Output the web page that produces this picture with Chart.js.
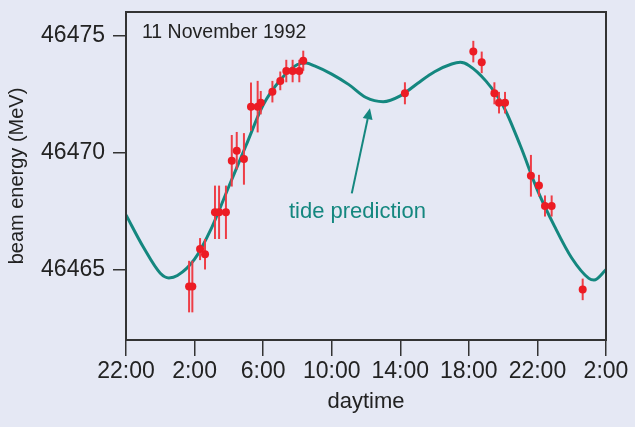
<!DOCTYPE html>
<html>
<head>
<meta charset="utf-8">
<script src="https://cdn.jsdelivr.net/npm/chart.js@4.4.0/dist/chart.umd.min.js"></script>
<style>
    html, body { margin: 0; padding: 0; background: #e5e8f4; }
</style>
</head>
<body>
<canvas id="chart" width="635" height="427"></canvas>
<script>
// hours are counted from midnight of 11 November 1992
const pointHours = [1.68, 1.87, 2.32, 2.61, 3.19, 3.43, 3.83, 4.17, 4.46, 4.88, 5.29, 5.68, 5.86, 6.54, 7.0,
    7.35, 7.72, 8.11, 8.34, 14.27, 18.26, 18.75, 19.49, 19.76, 20.11, 21.62, 22.09, 22.44, 22.83, 24.64];
const pointEnergy = [46464.28, 46464.28, 46465.88, 46465.66, 46467.45, 46467.45, 46467.45, 46469.65, 46470.08,
    46469.73, 46471.96, 46471.96, 46472.13, 46472.6, 46473.06, 46473.48, 46473.48, 46473.48, 46473.92, 46472.53,
    46474.31, 46473.85, 46472.53, 46472.13, 46472.13, 46469.01, 46468.59, 46467.72, 46467.72, 46464.16];
const pointError = [1.1, 1.1, 0.47, 0.65, 1.14, 1.14, 1.14, 1.1, 0.8, 1.1, 1.03, 1.1, 0.5, 0.46, 0.4,
    0.48, 0.48, 0.48, 0.43, 0.47, 0.46, 0.46, 0.47, 0.46, 0.46, 0.89, 0.46, 0.45, 0.45, 0.46];

const tideHours = [-2, -1, 0, 0.5, 1, 2, 3, 4, 5, 6, 7, 8, 8.5, 9, 10, 11, 12, 13, 14, 15, 16, 17, 17.5, 18,
    19, 20, 21, 22, 23, 24, 25, 25.3, 26];
const tideEnergy = [46467.34, 46465.98, 46464.85, 46464.65, 46464.75, 46465.45, 46466.8, 46468.55, 46470.3,
    46472.03, 46473.1, 46473.76, 46473.82, 46473.7, 46473.35, 46472.9, 46472.35, 46472.17, 46472.42, 46472.95,
    46473.45, 46473.78, 46473.85, 46473.72, 46473.05, 46472.0, 46470.3, 46468.4, 46466.85, 46465.5, 46464.63,
    46464.56, 46465.0];

const xTickHours = [-2, 2, 6, 10, 14, 18, 22, 26];
const xTickLabels = ['22:00', '2:00', '6:00', '10:00', '14:00', '18:00', '22:00', '2:00'];
const yTickValues = [46465, 46470, 46475];

const teal = '#14877f';
const red = '#ec1c24';
const ink = '#222';
const family = '"Liberation Sans", Arial, sans-serif';

const backgroundPlugin = {
    id: 'background',
    beforeDraw(chart) {
        const ctx = chart.ctx;
        ctx.save();
        ctx.fillStyle = '#e5e8f4';
        ctx.fillRect(0, 0, chart.width, chart.height);
        ctx.restore();
    },
};

// vertical error bars, drawn under the red dots but over the tide curve
const errorBarPlugin = {
    id: 'errorBars',
    beforeDatasetDraw(chart, args) {
        if (args.index !== 0) return;
        const { ctx, scales: { x, y } } = chart;
        ctx.save();
        ctx.strokeStyle = '#ee3d46';
        ctx.lineWidth = 2;
        pointHours.forEach((h, i) => {
            const px = x.getPixelForValue(h);
            ctx.beginPath();
            ctx.moveTo(px, y.getPixelForValue(pointEnergy[i] - pointError[i]));
            ctx.lineTo(px, y.getPixelForValue(pointEnergy[i] + pointError[i]));
            ctx.stroke();
        });
        ctx.restore();
    },
};

const frameAndNotesPlugin = {
    id: 'frameAndNotes',
    afterDatasetsDraw(chart) {
        const { ctx, chartArea: a, scales: { x, y } } = chart;
        ctx.save();
        ctx.strokeStyle = '#333';
        ctx.lineWidth = 2;
        ctx.strokeRect(a.left, a.top, a.right - a.left, a.bottom - a.top);

        ctx.fillStyle = ink;
        ctx.font = '19.5px ' + family;
        ctx.textAlign = 'left';
        ctx.textBaseline = 'middle';
        ctx.fillText('11 November 1992', x.getPixelForValue(-1.07), y.getPixelForValue(46475.12));

        ctx.fillStyle = teal;
        ctx.font = '22px ' + family;
        ctx.textAlign = 'center';
        ctx.fillText('tide prediction', x.getPixelForValue(11.5), y.getPixelForValue(46467.48));

        // arrow pointing at the tide curve
        const x0 = x.getPixelForValue(11.17), y0 = y.getPixelForValue(46468.26);
        const x1 = x.getPixelForValue(12.23), y1 = y.getPixelForValue(46471.89);
        const ang = Math.atan2(y1 - y0, x1 - x0);
        const headLen = 11, headHalf = 5;
        const bx = x1 - headLen * Math.cos(ang), by = y1 - headLen * Math.sin(ang);
        ctx.strokeStyle = teal;
        ctx.lineWidth = 2;
        ctx.beginPath();
        ctx.moveTo(x0, y0);
        ctx.lineTo(bx, by);
        ctx.stroke();
        ctx.beginPath();
        ctx.moveTo(x1, y1);
        ctx.lineTo(bx + headHalf * Math.sin(ang), by - headHalf * Math.cos(ang));
        ctx.lineTo(bx - headHalf * Math.sin(ang), by + headHalf * Math.cos(ang));
        ctx.closePath();
        ctx.fill();
        ctx.restore();
    },
};

new Chart(document.getElementById('chart'), {
    data: {
        datasets: [
            {
                type: 'scatter',
                label: 'measured',
                data: pointHours.map((h, i) => ({ x: h, y: pointEnergy[i] })),
                backgroundColor: red,
                borderWidth: 0,
                pointRadius: 4,
            },
            {
                type: 'line',
                label: 'tide prediction',
                data: tideHours.map((h, i) => ({ x: h, y: tideEnergy[i] })),
                borderColor: teal,
                borderWidth: 3,
                pointRadius: 0,
                cubicInterpolationMode: 'monotone',
                fill: false,
            },
        ],
    },
    options: {
        responsive: false,
        animation: false,
        layout: { padding: { top: 12, right: 29, left: 0, bottom: 0 } },
        plugins: {
            legend: { display: false },
            tooltip: { enabled: false },
        },
        scales: {
            x: {
                type: 'linear',
                min: -2,
                max: 26,
                afterBuildTicks: scale => {
                    scale.ticks = xTickHours.map(v => ({ value: v }));
                },
                afterFit: scale => {
                    scale.height = 87;
                    scale.paddingLeft = 0;
                    scale.paddingRight = 0;
                },
                ticks: {
                    autoSkip: false,
                    maxRotation: 0,
                    padding: 2,
                    color: ink,
                    font: { family: family, size: 23 },
                    callback: value => xTickLabels[xTickHours.indexOf(value)],
                },
                grid: {
                    drawOnChartArea: false,
                    drawTicks: true,
                    tickLength: 16,
                    color: '#333',
                    lineWidth: 1.5,
                },
                border: { display: false },
                title: {
                    display: true,
                    text: 'daytime',
                    color: ink,
                    font: { family: family, size: 22 },
                    padding: { top: 0, bottom: 12 },
                },
            },
            y: {
                type: 'linear',
                min: 46462,
                max: 46476,
                afterBuildTicks: scale => {
                    scale.ticks = yTickValues.map(v => ({ value: v }));
                },
                afterFit: scale => {
                    scale.width = 126;
                    scale.paddingTop = 0;
                    scale.paddingBottom = 0;
                },
                ticks: {
                    padding: 8,
                    color: ink,
                    font: { family: family, size: 23 },
                    callback: value => String(value),
                },
                grid: {
                    drawOnChartArea: false,
                    drawTicks: true,
                    tickLength: 13,
                    color: '#333',
                    lineWidth: 1.5,
                },
                border: { display: false },
                title: {
                    display: true,
                    text: 'beam energy (MeV)',
                    color: ink,
                    font: { family: family, size: 20 },
                    padding: { top: 5, bottom: 0 },
                },
            },
        },
    },
    plugins: [backgroundPlugin, errorBarPlugin, frameAndNotesPlugin],
});
</script>
</body>
</html>
